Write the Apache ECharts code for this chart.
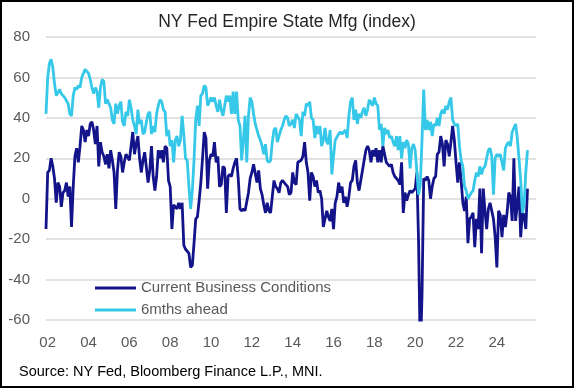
<!DOCTYPE html>
<html><head><meta charset="utf-8">
<script src="https://cdn.jsdelivr.net/npm/echarts@6/dist/echarts.min.js"></script>
<style>
html,body{margin:0;padding:0;background:#fff}
#c{width:574px;height:388px;position:absolute;left:0;top:0}
#f{position:absolute;left:0;top:0;width:574px;height:388px;box-sizing:border-box;border:2px solid #000;pointer-events:none}
</style>
</head><body><div id="c"></div><div id="f"></div>
<script>
// Monthly observations Dec 2001 .. Jul 2025
const current = [
 -15,
 13, 14, 20, 16, 10, -2, 8, 6, -4, 3, 4, 8,
 1, 6, -14, 6, 21, 25, 18, 26, 36, 34, 28, 34,
 31, 37, 38, 34, 27, 36, 16, 28, 23, 21, 17, 22,
 15, 24, 19, 13, -5, 14, 23, 21, 13, 18, 22, 22,
 19, 26, 33, 22, 27, 31, 20, 13, 19, 23, 23, 8,
 14, 26, 11, 4, 11, 24, 20, 24, 18, 26, 25, 9,
 6, -15, -3, -4, -5, -2, -5, -2, -23, -25, -26, -27,
 -34, -33, -22, -10, -9, -1, 8, 20, 33, 30, 5, 19,
 22, 21, 28, 18, 21, 6, 7, 16, 15, -7, 11, 12,
 11, 15, 18, 20, 10, -5, -6, -5, -6, -6, 3, 10,
 13, 17, 17, 8, 14, 5, 2, -3, -7, -2, -6, -7,
 -7, 9, 6, 5, 3, 8, 9, 8, 7, 6, 2, 3,
 13, 8, 7, 18, 18, 19, 21, 28, 18, 13, -1, 13,
 11, 6, 9, 3, 4, 0, -14, -14, -6, -9, -11, -5,
 -15, -2, 1, 8, 3, 6, -2, 1, -4, 1, 8, 9,
 16, 19, 8, 4, 4, 14, 19, 24, 26, 24, 18, 24,
 21, 25, 18, 24, 18, 26, 22, 18, 18, 16, 17, 13,
 11, 10, 9, 7, 18, -7, 3, -1, 2, 4, 3, 4,
 5, 13, -22, -78, -48, 10, 9, 11, 9, 0, 6, 10,
 11, 22, 23, 31, 27, 16, 29, 27, 21, 28, 36, 29,
 18, 8, 18, 9, -2, -6, 1, -22, -10, -9, -7, -24,
 -10, -15, 5, -27, 5, -6, -15, -5, -2, -6, -10, -19,
 -34, -6, -8, -19, -8, -14, -7, 3, 1, -11, 20, -11,
 -3, 6, -19, -7, -8, -15, 5
];
const ahead = [
 42,
 60, 67, 69, 65, 57, 51, 51, 54, 52, 51, 50, 50,
 47, 42, 41, 51, 55, 54, 56, 55, 60, 62, 64, 64,
 62, 59, 55, 52, 55, 53, 45, 55, 59, 58, 47, 49,
 49, 45, 39, 37, 47, 42, 46, 48, 38, 36, 43, 41,
 49, 45, 39, 36, 32, 44, 37, 39, 32, 33, 38, 42,
 43, 32, 36, 33, 42, 46, 49, 48, 44, 43, 31, 34,
 26, 29, 18, 29, 31, 26, 29, 41, 32, 20, 19, 6,
 -5, 4, 19, 39, 46, 36, 51, 52, 56, 55, 46, 48,
 50, 48, 50, 46, 43, 49, 44, 41, 46, 51, 48, 51,
 42, 53, 42, 53, 39, 36, 19, 29, 41, 18, 41, 50,
 48, 42, 37, 34, 31, 29, 26, 22, 27, 19, 18, 19,
 28, 34, 35, 28, 28, 34, 36, 39, 41, 40, 36, 37,
 39, 35, 42, 42, 39, 31, 43, 41, 47, 46, 48, 40,
 39, 30, 36, 32, 36, 26, 29, 35, 28, 27, 34, 12,
 21, 29, 29, 32, 33, 32, 32, 34, 30, 41, 48, 50,
 39, 44, 37, 42, 40, 43, 45, 41, 44, 49, 49, 46,
 50, 47, 46, 34, 37, 26, 35, 32, 34, 30, 31, 28,
 26, 31, 24, 31, 20, 28, 25, 29, 27, 15, 25, 27,
 24, 13, 2, 7, 29, 54, 34, 39, 34, 38, 31, 37,
 36, 40, 36, 42, 44, 42, 46, 44, 48, 50, 39, 37,
 36, 37, 26, 19, 16, 6, 4, 0, 0, 3, 4, 9,
 13, 11, 16, 12, 15, 16, 20, 24, 25, 21, 2, 20,
 22, 21, 22, 18, 14, 25, 27, 28, 26, 33, 35, 37,
 30, 20, 9, -7, -3, 13, 24
];
const seriesNames = ['Current Business Conditions', '6mths ahead'];
const xTickLabels = ['02','04','06','08','10','12','14','16','18','20','22','24'];
const yTicks = [-60, -40, -20, 0, 20, 40, 60, 80];

// month categories Dec 2001 .. Dec 2025
const months = [];
for (let y = 2001; y <= 2025; y++) {
  for (let m = 1; m <= 12; m++) {
    if (y === 2001 && m < 12) continue;
    months.push(y + '-' + (m < 10 ? '0' + m : m));
  }
}

const FONT = 'Liberation Sans, Arial, sans-serif';
const chart = echarts.init(document.getElementById('c'), null, {renderer: 'canvas'});
chart.setOption({
  animation: false,
  backgroundColor: '#fff',
  title: {
    text: 'NY Fed Empire State Mfg (index)',
    left: 'center', top: 8,
    textStyle: {fontFamily: FONT, fontSize: 17.5, fontWeight: 'normal', color: '#262626'}
  },
  grid: {left: 46, right: 38, top: 37, bottom: 68, containLabel: false},
  legend: {
    left: 95, top: 280, orient: 'vertical', padding: 0,
    icon: 'rect', itemWidth: 41, itemHeight: 3, itemGap: 6,
    textStyle: {fontFamily: FONT, fontSize: 15, color: '#595959', lineHeight: 16},
    data: seriesNames
  },
  xAxis: {
    type: 'category', data: months, boundaryGap: false,
    axisLine: {show: false}, axisTick: {show: false}, splitLine: {show: false},
    axisLabel: {
      interval: function (i, v) {
        const yy = v.slice(2, 4);
        return v.slice(5) === '01' && xTickLabels.indexOf(yy) >= 0;
      },
      formatter: function (v) { return v.slice(2, 4); },
      color: '#595959', fontFamily: FONT, fontSize: 15, margin: 15
    }
  },
  yAxis: {
    type: 'value', min: yTicks[0], max: yTicks[yTicks.length - 1], interval: 20,
    axisLine: {show: false}, axisTick: {show: false},
    splitLine: {lineStyle: {color: '#d9d9d9', width: 1.5}},
    axisLabel: {color: '#595959', fontFamily: FONT, fontSize: 15, margin: 16}
  },
  series: [
    {name: seriesNames[0], type: 'line', data: current, showSymbol: false, clip: true,
     lineStyle: {color: '#13138a', width: 2.8}, itemStyle: {color: '#13138a'}},
    {name: seriesNames[1], type: 'line', data: ahead, showSymbol: false, clip: true,
     lineStyle: {color: '#36c8e8', width: 2.8}, itemStyle: {color: '#36c8e8'}}
  ],
  graphic: [{
    type: 'text', left: 19, top: 364,
    style: {text: 'Source: NY Fed, Bloomberg Finance L.P., MNI.', fontFamily: FONT, fontSize: 14.5, fill: '#000'}
  }]
});
</script></body></html>
